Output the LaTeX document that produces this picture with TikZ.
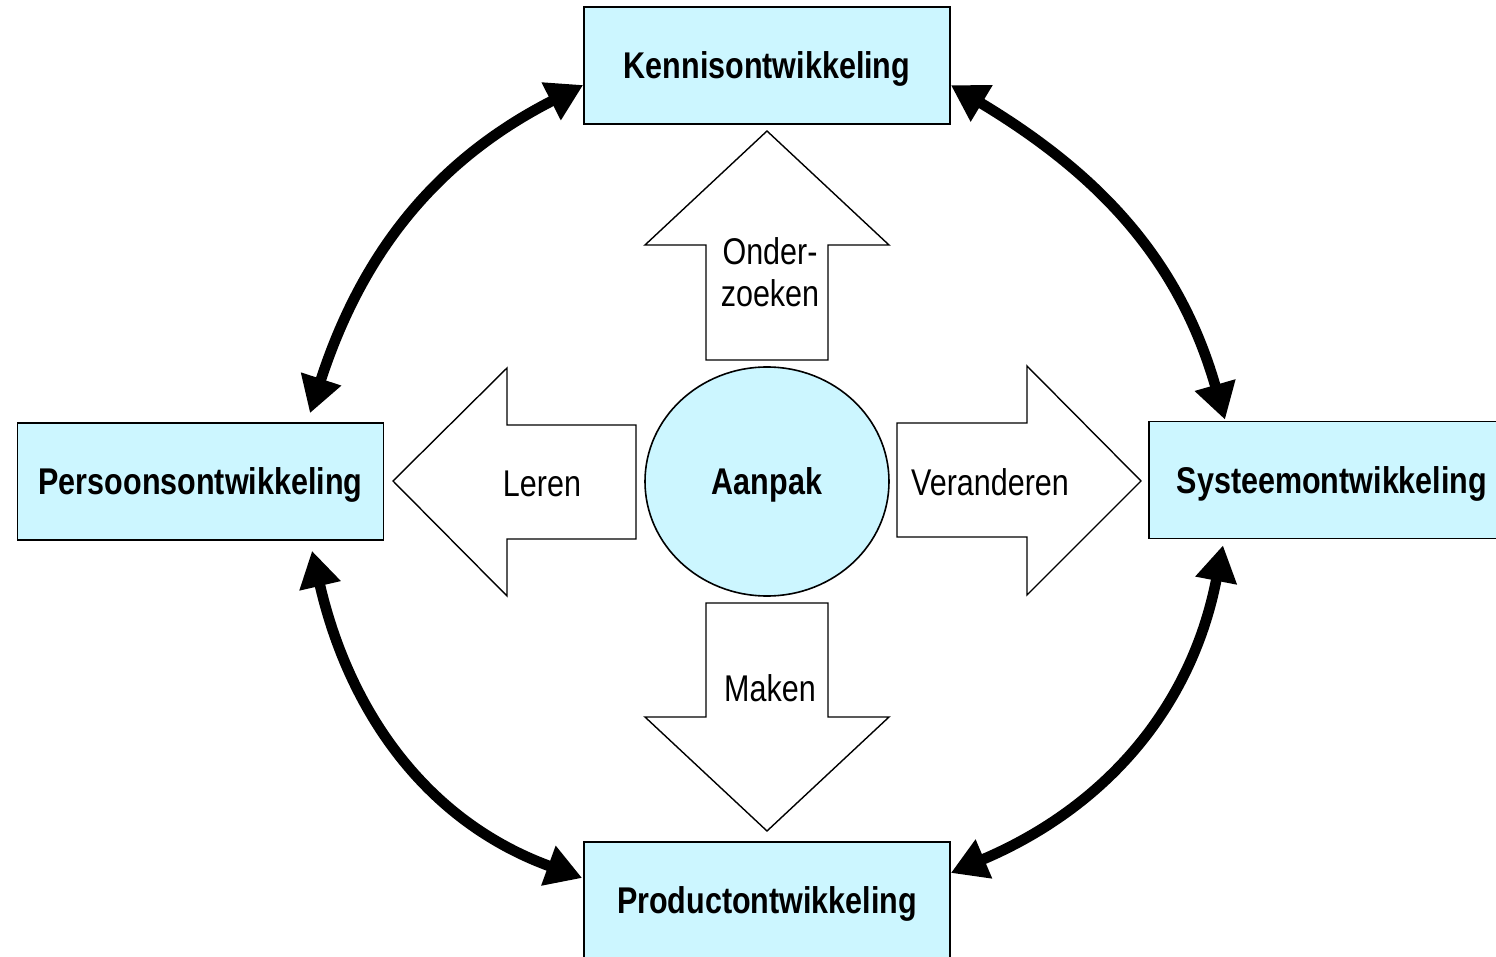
\documentclass[tikz,border=0pt]{standalone}
\usepackage{fontspec}
\setmainfont{Liberation Sans}[FakeStretch=0.82]
\usetikzlibrary{shapes.geometric,arrows.meta,calc}
\definecolor{boxfill}{HTML}{CCF6FF}
\begin{document}
\begin{tikzpicture}[x=0.5pt,y=-0.5pt,
  box/.style={draw,fill=boxfill,line width=0.8pt,minimum width=183pt,minimum height=58.5pt,inner sep=0pt,text depth=0pt,font=\fontsize{18.6}{21}\selectfont\bfseries},
  hub/.style={ellipse,draw,fill=boxfill,line width=0.8pt,minimum width=122pt,minimum height=114.5pt,inner sep=0pt,text depth=0pt,font=\fontsize{18.6}{21}\selectfont\bfseries},
  bigarrow/.style={draw,fill=white,line width=0.7pt,line join=miter},
  lbl/.style={font=\fontsize{18.6}{21}\selectfont,align=center,inner sep=0pt},
  link/.style={line width=5.3pt,{Triangle[length=18pt,width=20pt]}-{Triangle[length=18pt,width=20pt]}}]
\useasboundingbox (0,0) rectangle (1496,957);
\clip (0,0) rectangle (1496,957);

% boxes
\node[box] (k)  at (767,65.5)   {Kennisontwikkeling};
\node[box] (p)  at (200.5,481.5) {Persoonsontwikkeling};
\node[box] (s)  at (1332,480)   {Systeemontwikkeling};
\node[box] (pr) at (767,900.5)  {Productontwikkeling};
\node[hub] (a)  at (767,481.5)  {Aanpak};

% block arrows
\draw[bigarrow] (767,131) -- (889,245) -- (828,245) -- (828,360) -- (706,360) -- (706,245) -- (645,245) -- cycle;
\draw[bigarrow] (706,603) -- (828,603) -- (828,717) -- (889,717) -- (767,831) -- (645,717) -- (706,717) -- cycle;
\draw[bigarrow] (393,481) -- (507,368) -- (507,425) -- (636,425) -- (636,539) -- (507,539) -- (507,596) -- cycle;
\draw[bigarrow] (897,423) -- (1027,423) -- (1027,366) -- (1141,481) -- (1027,595) -- (1027,537) -- (897,537) -- cycle;

\node[lbl] (t1) at (770,272) {Onder-\\zoeken};
\node[lbl] (t2) at (542,484) {Leren};
\node[lbl] (t3) at (990,482) {Veranderen};
\node[lbl] (t4) at (770,688) {Maken};

% curved connectors
\draw[link] ($(k.west)+(0,19.5)$) to[out=207,in=72] ($(p.north)+(109.5,-9)$);
\draw[link] ($(k.east)+(0,19.5)$) to[out=-31,in=106] ($(s.north)+(-107,-1)$);
\draw[link] ($(p.south)+(111.5,10)$) to[out=-77,in=160] ($(pr.west)+(-1,-22.5)$);
\draw[link] ($(s.south)+(-109,6)$) to[out=-101,in=23] ($(pr.east)+(0,-27.5)$);
\end{tikzpicture}
\end{document}
